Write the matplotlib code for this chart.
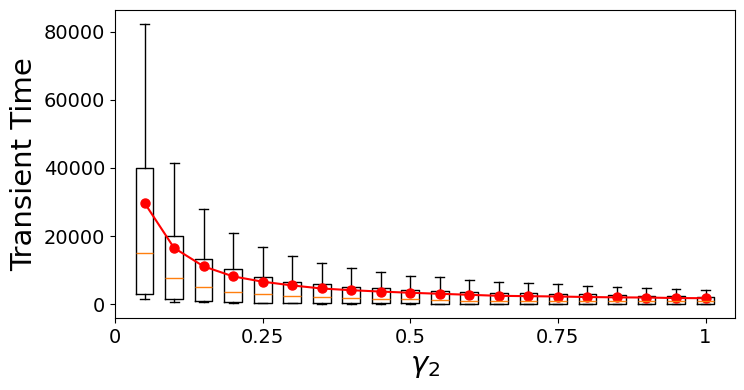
import matplotlib
matplotlib.use("Agg")
import matplotlib.pyplot as plt

gamma2 = [0.05, 0.10, 0.15, 0.20, 0.25, 0.30, 0.35, 0.40, 0.45, 0.50,
          0.55, 0.60, 0.65, 0.70, 0.75, 0.80, 0.85, 0.90, 0.95, 1.00]

whis_low = [1400, 500, 550, 250, 200, 200, 150, 150, 100, 100,
            50, 50, 50, 50, 50, 50, 50, 50, 50, 50]
q1 = [2900, 1400, 850, 650, 400, 450, 250, 250, 200, 200,
      150, 150, 150, 150, 150, 150, 150, 150, 150, 150]
medians = [15000, 7600, 4900, 3600, 2850, 2450, 2000, 1950, 1600, 1400,
           1200, 1050, 1000, 1000, 950, 900, 900, 850, 850, 800]
q3 = [40000, 20000, 13400, 10200, 8100, 6600, 5800, 4900, 4600, 4300,
      3900, 3600, 3400, 3150, 3100, 2850, 2650, 2450, 2350, 2150]
whis_high = [82200, 41400, 27800, 20800, 16700, 14000, 12100, 10500, 9400, 8400,
             8000, 7000, 6600, 6100, 5800, 5300, 4900, 4600, 4350, 4150]
means = [29700, 16500, 11100, 8150, 6600, 5500, 4600, 4100, 3700, 3350,
         3050, 2750, 2450, 2350, 2250, 2100, 2000, 1950, 1800, 1750]

xtick_vals = [0, 0.25, 0.5, 0.75, 1]
xtick_labels = ["0", "0.25", "0.5", "0.75", "1"]

stats = []
for i in range(len(gamma2)):
    stats.append({"whislo": whis_low[i], "q1": q1[i], "med": medians[i],
                  "q3": q3[i], "whishi": whis_high[i], "fliers": []})

fig = plt.figure(figsize=(7.44, 3.9), dpi=100)
ax = fig.add_axes([0.1546, 0.1846, 0.8334, 0.7897])

ax.bxp(stats, positions=gamma2, widths=0.03, showfliers=False, manage_ticks=False)
ax.plot(gamma2, means, "o-", color="red", markersize=6.5, linewidth=1.5)

ax.set_xlim(0, 1.05)
ax.set_xticks(xtick_vals)
ax.set_xticklabels(xtick_labels)
ax.tick_params(labelsize=14)
ax.set_xlabel(r"$\gamma_2$", fontsize=21)
ax.set_ylabel("Transient Time", fontsize=21)

fig.savefig("out.png", dpi=100)
